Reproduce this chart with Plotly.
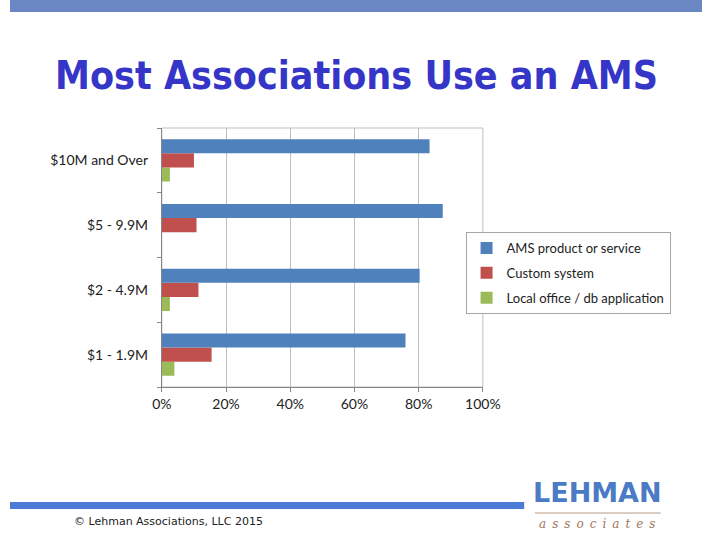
import plotly.graph_objects as go

categories = ["$1 - 1.9M", "$2 - 4.9M", "$5 - 9.9M", "$10M and Over"]
series_names = ["AMS product or service", "Custom system", "Local office / db application"]
ams = [0.759, 0.803, 0.875, 0.834]
custom = [0.155, 0.114, 0.108, 0.100]
local = [0.039, 0.025, 0.0, 0.025]
colors = ["#4F81BD", "#C0504D", "#9BBB59"]
x_ticks = [0, 0.2, 0.4, 0.6, 0.8, 1.0]

fig = go.Figure()
series = list(zip(series_names, [ams, custom, local], colors))
for rank, (name, vals, col) in reversed(list(enumerate(series, start=1))):
    fig.add_trace(go.Bar(y=categories, x=vals, name=name, orientation="h", legendgroup=name,
                         legendrank=rank, marker=dict(color=col, line=dict(width=0))))

fig.update_layout(
    width=720, height=540,
    margin=dict(l=0, r=0, t=0, b=0),
    paper_bgcolor="white", plot_bgcolor="white",
    barmode="group", bargap=0.35, bargroupgap=0,
    showlegend=True,
    legend=dict(traceorder="grouped", x=474/720, y=1-232/540, xanchor="left", yanchor="top",
                bordercolor="#A6A6A6", borderwidth=1, bgcolor="white",
                font=dict(family="Lato", size=13, color="#222"), itemwidth=30,
                tracegroupgap=5),
    xaxis=dict(domain=[158/720, 492/720], range=[0, 1], tickvals=x_ticks, tickformat=".0%",
               showgrid=True, gridcolor="#BFBFBF", gridwidth=1, showline=True, linecolor="#868686",
               mirror=False, ticks="outside", ticklen=4, tickcolor="#868686", zeroline=False,
               tickfont=dict(family="Lato", size=14, color="#222"), fixedrange=True),
    yaxis=dict(domain=[1-387/540, 1-128/540], categoryorder="array", categoryarray=categories,
               showline=True, linecolor="#868686", ticks="outside", ticklen=4, tickcolor="#868686",
               tickson="boundaries", showgrid=False, ticklabelstandoff=10,
               tickfont=dict(family="Lato", size=14, color="#222"), fixedrange=True),
)

# plot frame (top and right edges)
fig.add_shape(type="rect", xref="x domain", yref="y domain", x0=0, x1=1, y0=0, y1=1,
              line=dict(color="#BFBFBF", width=1), layer="below")

# top banner
fig.add_shape(type="rect", xref="paper", yref="paper", x0=0, x1=1, y0=1-12/540, y1=1,
              fillcolor="#6A87C4", line=dict(width=0))
# bottom line
fig.add_shape(type="rect", xref="paper", yref="paper", x0=0, x1=535/720, y0=1-509/540, y1=1-502/540,
              fillcolor="#4A7BD5", line=dict(width=0))
# logo divider
fig.add_shape(type="line", xref="paper", yref="paper", x0=546/720, x1=677/720, y0=1-513/540, y1=1-513/540,
              line=dict(color="#B89A86", width=1))

fig.add_annotation(text="<b>Most Associations Use an AMS</b>", xref="paper", yref="paper",
                   x=360/720, y=1-76/540, showarrow=False, xanchor="center", yanchor="middle",
                   font=dict(family="DejaVu Sans Condensed", size=39, color="#3535C8"))
fig.add_annotation(text="© Lehman Associations, LLC 2015", xref="paper", yref="paper",
                   x=65/720, y=1-521/540, showarrow=False, xanchor="left", yanchor="middle",
                   font=dict(family="DejaVu Sans", size=11, color="#222"))
fig.add_annotation(text="<b>LEHMAN</b>", xref="paper", yref="paper",
                   x=611/720, y=1-510/540, showarrow=False, xanchor="center", yanchor="bottom",
                   font=dict(family="DejaVu Sans", size=27, color="#4A7BC4"))
fig.add_annotation(text="<i>" + "\u2002".join("associates") + "</i>", xref="paper", yref="paper",
                   x=611/720, y=1-515/540, showarrow=False, xanchor="center", yanchor="top",
                   font=dict(family="DejaVu Serif", size=12, color="#A07860"))

fig.write_html("out.html", config={"displayModeBar": False},
               post_script="document.body.style.margin='0';document.body.style.overflow='hidden';")
